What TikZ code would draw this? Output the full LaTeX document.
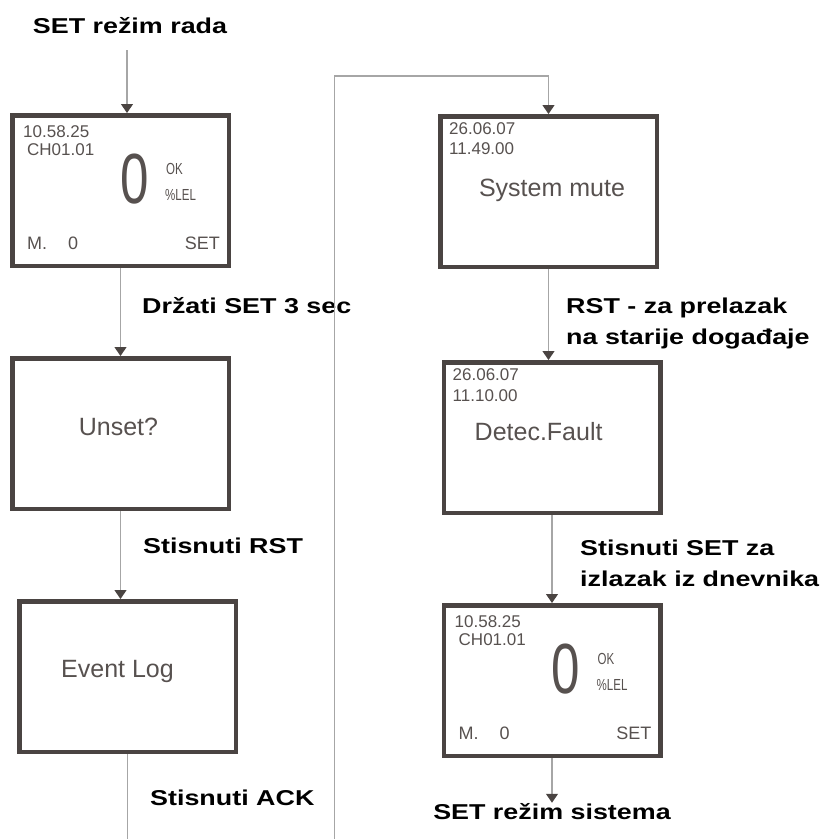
\documentclass[tikz,border=0pt]{standalone}
\usepackage{fontspec}
\setmainfont{Liberation Sans}
\newfontfamily\lblfont[FakeStretch=1.25]{Liberation Sans}
\newfontfamily\lcdcond[FakeStretch=0.72]{Liberation Sans}
\usetikzlibrary{
  arrows.meta,
  positioning,
}
\definecolor{framegray}{HTML}{4A4442}
\definecolor{textgray}{HTML}{57514F}
\definecolor{linegray}{HTML}{A6A6A6}
\tikzset{
  screen/.style={
    rectangle,
    draw=framegray,
    line width=4.5pt,
    minimum width=216.5pt,
    minimum height=150.5pt,
  },
  lcdsmall/.style={
    inner sep=0pt,
    text=textgray,
    font=\fontsize{17}{17}\selectfont,
  },
  lcdmid/.style={
    inner sep=0pt,
    text=textgray,
    font=\fontsize{18}{18}\selectfont,
  },
  lcdbig/.style={
    inner sep=0pt,
    text=textgray,
    font=\fontsize{25}{25}\selectfont,
  },
  lcdzero/.style={
    inner sep=0pt,
    text=textgray,
    font=\lcdcond\fontsize{71}{71}\selectfont,
  },
  lcdunit/.style={
    inner sep=0pt,
    text=textgray,
    font=\lcdcond\fontsize{16}{16}\selectfont,
  },
  note/.style={
    inner sep=0pt,
    text=black,
    font=\lblfont\bfseries\fontsize{21.5}{31}\selectfont,
  },
  arrow/.style={
    draw=linegray,
    line width=1.2pt,
    -{Triangle[color=framegray, width=12pt, length=9pt]},
  },
}

\begin{document}
\begin{tikzpicture}[
    x=1pt, y=-1pt,
    node distance=88pt,
  ]
  \clip (0,0) rectangle (824,839);

  % Labels
  \node (rada) [note, anchor=base] at (130,33) {SET režim rada};
  \node (hold) [note, anchor=base west] at (142,313) {Držati SET 3 sec};
  \node (pressrst) [note, anchor=base west] at (143,553) {Stisnuti RST};
  \node (pressack) [note, anchor=base west] at (150,805) {Stisnuti ACK};
  \node (older) [note, anchor=north west, align=left] at (566,298)
    {RST - za prelazak\\na starije događaje};
  \node (exitlog) [note, anchor=north west, align=left] at (580,540)
    {Stisnuti SET za\\izlazak iz dnevnika};
  \node (sistem) [note, anchor=base] at (552,819) {SET režim sistema};

  % Screens
  \node (lcd1) [screen] at (120.5,190.5) {};
  \node (unset) [screen, below=of lcd1] {};
  \node (evlog) [screen, below=of unset, xshift=7pt] {};
  \node (mute) [screen] at (548.5,191.5) {};
  \node (fault) [screen, below=91pt of mute, xshift=3.5pt] {};
  \node (lcd2) [screen, below=of fault] {};

  % Gas reading, top left
  \node (time1) [lcdsmall, anchor=base west, xshift=13pt, yshift=-24pt] at (lcd1.north west) {10.58.25};
  \node (chan1) [lcdsmall, anchor=base west, xshift=17pt, yshift=-42pt] at (lcd1.north west) {CH01.01};
  \node (zero1) [lcdzero, anchor=base west, xshift=110pt, yshift=-90pt] at (lcd1.north west) {0};
  \node (ok1) [lcdunit, anchor=base west, xshift=156pt, yshift=-61pt] at (lcd1.north west) {OK};
  \node (lel1) [lcdunit, anchor=base west, xshift=155pt, yshift=-87pt] at (lcd1.north west) {\%LEL};
  \node (mem1) [lcdmid, anchor=base west, xshift=17pt, yshift=-136pt] at (lcd1.north west) {M.};
  \node (memval1) [lcdmid, anchor=base west, xshift=58pt, yshift=-136pt] at (lcd1.north west) {0};
  \node (set1) [lcdmid, anchor=base east, xshift=-11pt, yshift=-136pt] at (lcd1.north east) {SET};

  % Menu screens
  \node (unsettxt) [lcdbig, anchor=base, xshift=-2pt, yshift=-79pt] at (unset.north) {Unset?};
  \node (evlogtxt) [lcdbig, anchor=base, xshift=-10pt, yshift=-78pt] at (evlog.north) {Event Log};

  % Log entries
  \node (date3) [lcdsmall, anchor=base west, xshift=11pt, yshift=-20pt] at (mute.north west) {26.06.07};
  \node (time3) [lcdsmall, anchor=base west, xshift=11pt, yshift=-40pt] at (mute.north west) {11.49.00};
  \node (mutetxt) [lcdbig, anchor=base, xshift=3.5pt, yshift=-82pt] at (mute.north) {System mute};
  \node (date4) [lcdsmall, anchor=base west, xshift=11pt, yshift=-20pt] at (fault.north west) {26.06.07};
  \node (time4) [lcdsmall, anchor=base west, xshift=11pt, yshift=-41pt] at (fault.north west) {11.10.00};
  \node (faulttxt) [lcdbig, anchor=base west, xshift=33pt, yshift=-80pt] at (fault.north west) {Detec.Fault};

  % Gas reading, bottom right
  \node (time2) [lcdsmall, anchor=base west, xshift=13pt, yshift=-24pt] at (lcd2.north west) {10.58.25};
  \node (chan2) [lcdsmall, anchor=base west, xshift=17pt, yshift=-42pt] at (lcd2.north west) {CH01.01};
  \node (zero2) [lcdzero, anchor=base west, xshift=110pt, yshift=-90pt] at (lcd2.north west) {0};
  \node (ok2) [lcdunit, anchor=base west, xshift=156pt, yshift=-61pt] at (lcd2.north west) {OK};
  \node (lel2) [lcdunit, anchor=base west, xshift=155pt, yshift=-87pt] at (lcd2.north west) {\%LEL};
  \node (mem2) [lcdmid, anchor=base west, xshift=17pt, yshift=-136pt] at (lcd2.north west) {M.};
  \node (memval2) [lcdmid, anchor=base west, xshift=58pt, yshift=-136pt] at (lcd2.north west) {0};
  \node (set2) [lcdmid, anchor=base east, xshift=-11pt, yshift=-136pt] at (lcd2.north east) {SET};

  % Arrows
  \coordinate (start) at (127,50);
  \coordinate (loopbot) at (334.5,860);
  \coordinate (looptop) at (334.5,76);

  \draw [arrow] (start) -- (start |- lcd1.north);
  \draw [arrow] (lcd1.south) -- (unset.north);
  \draw [arrow] (unset.south) -- (unset.south |- evlog.north);
  \draw [arrow] (evlog.south) |- (loopbot) -- (looptop) -| (mute.north);
  \draw [arrow] (mute.south) -- (mute.south |- fault.north);
  \draw [arrow] (fault.south) -- (lcd2.north);
  \draw [arrow] (lcd2.south) -- (sistem.north);

\end{tikzpicture}
\end{document}
